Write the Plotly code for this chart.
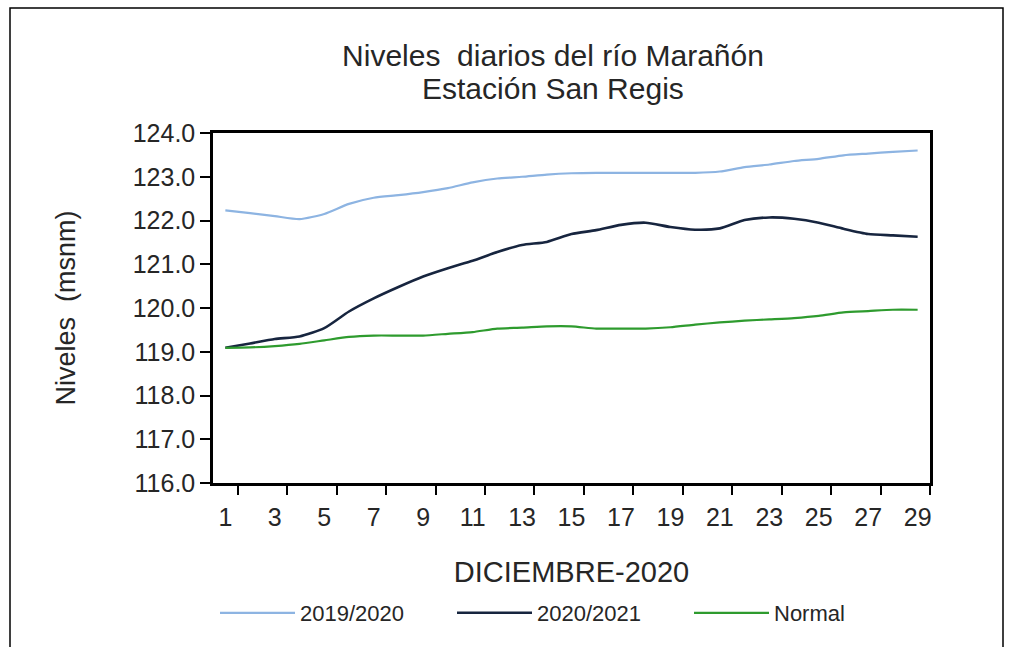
import plotly.graph_objects as go

# daily river levels, December (msnm)
dias = list(range(1, 30))
niv_2019_2020 = [122.23, 122.17, 122.10, 122.03, 122.15, 122.38, 122.52, 122.58, 122.65, 122.74,
                 122.87, 122.96, 123.00, 123.05, 123.08, 123.09, 123.09, 123.09, 123.09, 123.09,
                 123.12, 123.22, 123.28, 123.36, 123.41, 123.49, 123.53, 123.57, 123.60]
niv_2020_2021 = [119.09, 119.19, 119.29, 119.35, 119.54, 119.92, 120.22, 120.48, 120.72, 120.91,
                 121.08, 121.28, 121.44, 121.51, 121.69, 121.78, 121.90, 121.95, 121.85, 121.79,
                 121.82, 122.01, 122.07, 122.04, 121.95, 121.81, 121.69, 121.66, 121.63]
niv_normal = [119.09, 119.10, 119.13, 119.18, 119.26, 119.34, 119.37, 119.37, 119.37, 119.41,
              119.45, 119.53, 119.55, 119.58, 119.58, 119.53, 119.53, 119.53, 119.56, 119.62,
              119.67, 119.71, 119.74, 119.77, 119.82, 119.90, 119.93, 119.96, 119.96]

x_labels = [str(d) for d in range(1, 30, 2)]
y_ticks = [116, 117, 118, 119, 120, 121, 122, 123, 124]

FONT = "Liberation Sans"
TXT = "#262626"

fig = go.Figure()
for name, vals, color, width in [
    ("2019/2020", niv_2019_2020, "#8DB4E2", 2.2),
    ("2020/2021", niv_2020_2021, "#17253F", 2.6),
    ("Normal", niv_normal, "#2E9B2E", 2.2),
]:
    fig.add_trace(go.Scatter(x=dias, y=vals, name=name, mode="lines",
                             line=dict(color=color, width=width, shape="spline", smoothing=0.6)))

# plot area: x 213..930, y 133..483
L, R, T, B = 213, 81, 133, 164
W, H = 1011 - L - R, 647 - T - B

fig.update_layout(
    width=1011, height=647,
    margin=dict(l=L, r=R, t=T, b=B, autoexpand=False),
    paper_bgcolor="white", plot_bgcolor="white",
    font=dict(family=FONT, color=TXT),
    title=dict(text="Niveles  diarios del río Marañón",
               font=dict(size=30, color=TXT), x=553 / 1011, xanchor="center",
               y=1 - 55 / 647, yref="container", yanchor="middle"),
    showlegend=True,
    legend=dict(orientation="h", xref="container", yref="container",
                x=215 / 1011, xanchor="left", y=1 - 613 / 647, yanchor="middle",
                font=dict(size=22, color=TXT), itemwidth=75,
                entrywidth=147, entrywidthmode="pixels", traceorder="normal"),
)
fig.add_annotation(text="Estación San Regis", xref="paper", yref="paper",
                   x=(553 - L) / W, y=(483 - 88) / H, xanchor="center", yanchor="middle",
                   showarrow=False, font=dict(size=30, color=TXT))

fig.update_xaxes(
    range=[0.5, 29.5], tickmode="array", tickvals=[int(v) for v in x_labels], ticktext=x_labels,
    ticks="outside", ticklen=10, tickcolor="rgba(0,0,0,0)", tickfont=dict(size=25),
    minor=dict(tickvals=[d + 0.5 for d in dias[::2]], ticks="outside", ticklen=9,
               tickcolor="black", tickwidth=1.5),
    showgrid=False, zeroline=False, showline=True, linecolor="black", linewidth=2.5, mirror=True,
    title=dict(text="DICIEMBRE-2020", font=dict(size=29), standoff=32),
)
fig.update_yaxes(
    range=[116, 124], tickvals=y_ticks, ticktext=[f"{v:.1f}" for v in y_ticks],
    ticks="outside", ticklen=10, tickcolor="black", tickwidth=1.5, tickfont=dict(size=25),
    showgrid=False, zeroline=False, showline=True, linecolor="black", linewidth=2.5, mirror=True,
    title=dict(text="Niveles  (msnm)", font=dict(size=27), standoff=50),
)

# outer frame around the whole chart
fig.add_shape(type="rect", xref="paper", yref="paper",
              x0=(10 - L) / W, x1=(1003 - L) / W,
              y0=(483 - 660) / H, y1=(483 - 8) / H,
              line=dict(color="black", width=1.5), fillcolor="rgba(0,0,0,0)", layer="below")

fig.write_html("out.html", config={"displayModeBar": False},
               post_script="document.body.style.margin='0';")
